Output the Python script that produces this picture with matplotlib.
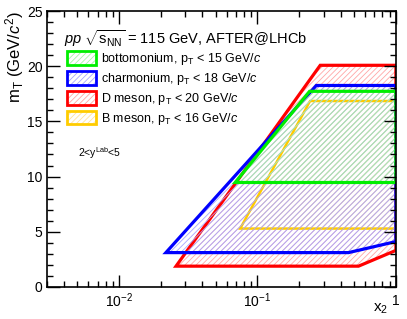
import matplotlib
matplotlib.use('Agg')
import matplotlib.pyplot as plt
from matplotlib.patches import Polygon, Patch
from matplotlib.legend_handler import HandlerTuple
from matplotlib.ticker import FixedLocator, NullFormatter

plt.rcParams['font.family'] = ['Liberation Sans', 'DejaVu Sans']
plt.rcParams['mathtext.fontset'] = 'custom'
plt.rcParams['mathtext.rm'] = 'Liberation Sans'
plt.rcParams['mathtext.it'] = 'Liberation Sans:italic'
plt.rcParams['mathtext.sf'] = 'Liberation Sans'
plt.rcParams['hatch.linewidth'] = 0.6

# acceptance regions in the (x2, mT) plane, corners
d_x = [0.0258, 0.284, 1.0, 1.0, 0.537, 0.0258]
d_mt = [1.87, 20.09, 20.09, 3.3, 1.87, 1.87]
b_x = [0.075, 0.240, 1.0, 1.0]
b_mt = [5.28, 16.85, 16.85, 5.28]
charm_x = [0.0218, 0.251, 0.266, 1.0, 1.0, 0.455]
charm_mt = [3.10, 17.9, 18.26, 18.26, 4.1, 3.10]
bottom_x = [0.069, 0.238, 1.0, 1.0]
bottom_mt = [9.46, 17.73, 17.73, 9.46]

labels = [r'bottomonium, $\mathrm{p_T}$ < 15 GeV/$c$',
          r'charmonium, $\mathrm{p_T}$ < 18 GeV/$c$',
          r'D meson, $\mathrm{p_T}$ < 20 GeV/$c$',
          r'B meson, $\mathrm{p_T}$ < 16 GeV/$c$']
colors = ['#00ee00', '#0000ff', '#ff0000', '#ffcc00']
hatch_colors = ['#a6f5a6', '#a6a6ff', '#ffa6a6', '#ffe49a']
HATCH = '//////'

fig = plt.figure(figsize=(4.07, 3.19), dpi=100)
ax = fig.add_axes([0.1147, 0.101, 0.858, 0.864])


def draw_region(xs, ys, color, hcolor, lw=2.3):
    pts = list(zip(xs, ys))
    ax.add_patch(Polygon(pts, closed=True, facecolor='none', edgecolor=hcolor,
                         hatch=HATCH, linewidth=0))
    ax.add_patch(Polygon(pts, closed=True, facecolor='none', edgecolor=color,
                         linewidth=lw, joinstyle='miter', clip_on=True))


draw_region(d_x, d_mt, colors[2], hatch_colors[2])
draw_region(b_x, b_mt, colors[3], hatch_colors[3], lw=1.8)
draw_region(charm_x, charm_mt, colors[1], hatch_colors[1])
draw_region(bottom_x, bottom_mt, colors[0], hatch_colors[0])

ax.set_xscale('log')
ax.set_xlim(0.003, 1.0)
ax.set_ylim(0, 25)

ax.xaxis.set_major_locator(FixedLocator([0.01, 0.1, 1.0]))
ax.set_xticklabels([r'$10^{-2}$', r'$10^{-1}$', ''])
minor = [m * 10.0 ** e for e in (-3, -2, -1) for m in range(2, 10)]
ax.xaxis.set_minor_locator(FixedLocator(minor))
ax.xaxis.set_minor_formatter(NullFormatter())
ax.set_yticks([0, 5, 10, 15, 20, 25])
ax.set_yticks(range(0, 26), minor=True)

ax.tick_params(which='both', direction='in', top=True, right=True,
               labelsize=10, width=1.0)
ax.tick_params(which='major', length=9)
ax.tick_params(which='minor', length=4.5)
ax.tick_params(axis='x', which='major', pad=3)
ax.tick_params(axis='y', which='major', pad=3)
for s in ax.spines.values():
    s.set_linewidth(1.2)

ax.text(1.0, -0.025, '1', transform=ax.get_xaxis_transform(),
        ha='center', va='top', fontsize=10)
ax.text(0.978, -0.055, r'$\mathrm{x_2}$', transform=ax.transAxes,
        ha='right', va='top', fontsize=11)
ax.set_ylabel(r'$\mathrm{m_T}$ (GeV/$c^2$)', fontsize=12, loc='top', labelpad=1)

handles = []
for c, hc in zip(colors, hatch_colors):
    hatch = Patch(facecolor='none', edgecolor=hc, hatch=HATCH, linewidth=0)
    edge = Patch(facecolor='none', edgecolor=c, linewidth=2.0)
    handles.append((hatch, edge))
leg = ax.legend(handles, labels, handler_map={tuple: HandlerTuple(ndivide=1, pad=0)},
                loc='upper left', bbox_to_anchor=(0.045, 0.872), frameon=False,
                fontsize=9, handlelength=2.3, handleheight=1.3, labelspacing=0.3,
                handletextpad=0.4, borderaxespad=0)

ax.text(0.05, 0.9, r'$pp\ \sqrt{\mathrm{s_{NN}}}$ = 115 GeV, AFTER@LHCb',
        transform=ax.transAxes, fontsize=10.5, ha='left', va='center')
ax.text(0.09, 0.485, r'2<y$^{\mathrm{Lab}}$<5', transform=ax.transAxes,
        fontsize=7.5, ha='left', va='center')

fig.savefig('out.png', dpi=100)
